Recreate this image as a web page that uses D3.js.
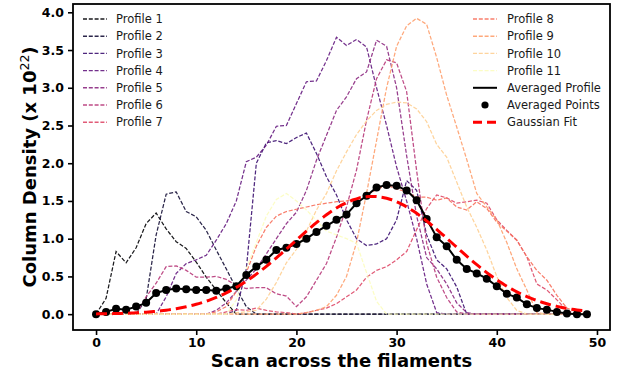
<!DOCTYPE html>
<html>
<head>
<meta charset="utf-8">
<script src="https://cdn.jsdelivr.net/npm/d3@7"></script>
<style>
  body { margin: 0; background: #fff; }
  svg { display: block; }
  text { font-family: "DejaVu Sans", sans-serif; }
</style>
</head>
<body>
<svg id="chart" width="622" height="378"></svg>
<script>
// Column density profiles measured across the filaments (units of 1e22)
const positions = d3.range(50);

const profile1 = [0,0.21,0.83,0.68,0.88,1.20,1.34,1.13,0.96,0.87,0.69,0.49,0.32,0.15,0,
  0,0,0,0,0,0,0,0,0,0,0,0,0,0,0,0,0,0,0,0,0,0,0,0,0,0,0,0,0,0,0,0,0,0,0];
const profile2 = [0,0,0,0,0,0.20,1.05,1.59,1.62,1.36,1.29,1.11,0.85,0.60,0.34,0.10,
  0,0,0,0,0,0,0,0,0,0,0,0,0,0,0,0,0,0,0,0,0,0,0,0,0,0,0,0,0,0,0,0,0,0];
const profile3 = [0,0,0,0,0,0,0,0,0,0,0,0,0,0,0.05,0.60,2.00,2.27,2.30,2.26,2.34,2.40,2.13,1.82,
  1.58,1.25,1.00,0.91,0.93,1.00,1.25,1.77,1.64,1.05,0.72,0.60,0.36,0,
  0,0,0,0,0,0,0,0,0,0,0,0];
const profile4 = [0,0,0,0,0,0,0,0.23,0.54,0.67,0.72,0.78,0.98,1.20,1.50,2.02,2.08,2.24,2.49,2.50,
  2.79,3.08,3.09,3.36,3.67,3.56,3.64,3.54,3.00,2.50,1.95,1.50,1.00,0.40,0.02,
  0,0,0,0,0,0,0,0,0,0,0,0,0,0,0];
const profile5 = [0,0,0,0,0,0,0,0,0,0,0,0,0.05,0.15,0.30,0.45,0.60,0.80,1.00,1.20,
  1.35,1.64,2.04,2.37,2.70,2.88,3.12,3.21,3.63,3.55,3.00,2.10,1.30,0.75,0.60,0.40,0.15,0.02,
  0,0,0,0,0,0,0,0,0,0,0,0];
const profile6 = [0,0,0,0,0,0.23,0.41,0.63,0.64,0.58,0.49,0.49,0.50,0.46,0.38,0.34,0.35,0.35,0.27,0.24,
  0.10,0.23,0.45,0.67,1.02,1.42,1.91,2.57,3.12,3.37,3.33,2.95,1.90,0.94,0.49,0.22,0.03,
  0,0,0,0,0,0,0,0,0,0,0,0,0];
const profile7 = [0,0,0,0,0,0,0,0,0,0,0,0,0,0.03,0.06,0.05,0.08,0.05,0.03,0.02,
  0,0.02,0.05,0.08,0.14,0.23,0.32,0.49,0.58,0.63,0.72,0.83,1.12,1.40,1.58,1.54,1.47,1.49,1.51,1.47,
  1.25,1.11,0.98,0.76,0.40,0.32,0.19,0.05,0,0];
const profile8 = [0,0,0,0,0,0,0,0,0,0,0,0,0.03,0.10,0.30,0.55,0.90,1.15,1.30,1.36,
  1.39,1.42,1.45,1.47,1.49,1.50,1.54,1.58,1.65,1.71,1.66,1.62,1.55,1.55,1.51,1.54,1.42,1.38,1.49,1.40,
  1.22,1.10,0.98,0.76,0.58,0.45,0.25,0.08,0.03,0];
const profile9 = [0,0,0,0,0,0,0,0,0,0,0,0,0,0,0,0,0,0,0,0,
  0,0.02,0.05,0.10,0.25,0.50,0.95,1.60,2.30,3.00,3.55,3.82,3.92,3.84,3.40,2.90,2.48,2.05,1.60,1.42,
  1.25,0.95,0.60,0.32,0.02,0,0,0,0,0];
const profile10 = [0,0,0,0,0,0,0,0,0,0,0,0,0,0,0.02,0.03,0.05,0.20,0.42,0.68,
  0.86,1.10,1.38,1.60,1.90,2.15,2.38,2.56,2.70,2.78,2.81,2.80,2.72,2.55,2.25,2.08,1.75,1.42,1.15,0.85,
  0.50,0.22,0.05,0,0,0,0,0,0,0];
const profile11 = [0,0,0,0,0,0,0,0,0,0,0,0,0,0,0.19,0.60,0.95,1.30,1.52,1.60,
  1.50,1.38,1.24,1.10,1.05,1.00,0.94,0.55,0.17,0,
  0,0,0,0,0,0,0,0,0,0,0,0,0,0,0,0,0,0,0,0];

const profiles = [profile1, profile2, profile3, profile4, profile5, profile6,
  profile7, profile8, profile9, profile10, profile11];
const profileNames = profiles.map((_, i) => `Profile ${i + 1}`);

const averagedProfile = [0,0.03,0.07,0.06,0.10,0.15,0.28,0.32,0.34,0.33,0.32,0.32,0.31,0.34,0.37,
  0.52,0.63,0.72,0.85,0.88,0.93,1.00,1.09,1.17,1.25,1.32,1.47,1.57,1.68,1.71,1.70,1.64,1.51,1.26,
  1.02,0.90,0.72,0.60,0.54,0.47,0.37,0.27,0.22,0.13,0.08,0.06,0.03,0.01,0,0];

// Parameters of the Gaussian fitted to the averaged profile
const fitAmplitude = 1.56;
const fitCenter = 27.6;
const fitSigma = 7.9;

const xTicks = [0, 10, 20, 30, 40, 50];
const yTicks = [0, 0.5, 1.0, 1.5, 2.0, 2.5, 3.0, 3.5, 4.0];

const svg = d3.select("#chart");
const plot = { left: 73, right: 610, top: 4, bottom: 330 };

const x = d3.scaleLinear().domain([-2.3, 51.3]).range([plot.left, plot.right]);
const y = d3.scaleLinear().domain([-0.21, 4.11]).range([plot.bottom, plot.top]);
const profileColor = i => d3.interpolateMagma(i / (profiles.length - 1));

svg.append("defs").append("clipPath").attr("id", "plot-area")
  .append("rect")
  .attr("x", plot.left).attr("y", plot.top)
  .attr("width", plot.right - plot.left).attr("height", plot.bottom - plot.top);

const layer = svg.append("g").attr("clip-path", "url(#plot-area)");

const line = d3.line().x((d, i) => x(positions[i])).y(d => y(d));

// Individual profiles
profiles.forEach((p, i) => {
  layer.append("path")
    .datum(p)
    .attr("d", line)
    .attr("fill", "none")
    .attr("stroke", profileColor(i))
    .attr("stroke-opacity", 0.9)
    .attr("stroke-width", 1.25)
    .attr("stroke-dasharray", "4,1.8");
});

// Averaged profile and its points
layer.append("path")
  .datum(averagedProfile)
  .attr("d", line)
  .attr("fill", "none")
  .attr("stroke", "#000")
  .attr("stroke-width", 2);

layer.selectAll("circle.avg")
  .data(averagedProfile)
  .join("circle")
  .attr("class", "avg")
  .attr("cx", (d, i) => x(positions[i]))
  .attr("cy", d => y(d))
  .attr("r", 4)
  .attr("fill", "#000");

// Gaussian fit
const fitX = d3.range(0, 49.001, 0.25);
const gaussian = t => fitAmplitude * Math.exp(-((t - fitCenter) ** 2) / (2 * fitSigma ** 2));
layer.append("path")
  .datum(fitX)
  .attr("d", d3.line().x(t => x(t)).y(t => y(gaussian(t))))
  .attr("fill", "none")
  .attr("stroke", "red")
  .attr("stroke-width", 3)
  .attr("stroke-dasharray", "11,5");

// Axes
const xAxis = svg.append("g")
  .attr("transform", `translate(0,${plot.bottom})`)
  .call(d3.axisBottom(x).tickValues(xTicks).tickFormat(d3.format("d")).tickSize(5).tickPadding(3));
const yAxis = svg.append("g")
  .attr("transform", `translate(${plot.left},0)`)
  .call(d3.axisLeft(y).tickValues(yTicks).tickFormat(d3.format(".1f")).tickSize(5).tickPadding(4));

[xAxis, yAxis].forEach(a => {
  a.select(".domain").remove();
  a.selectAll(".tick line").attr("stroke", "#000").attr("stroke-width", 1.6);
  a.selectAll(".tick text")
    .attr("fill", "#000")
    .style("font-family", '"DejaVu Sans", sans-serif')
    .style("font-size", "12.5px")
    .style("font-weight", "bold");
});

svg.append("rect")
  .attr("x", plot.left).attr("y", plot.top)
  .attr("width", plot.right - plot.left).attr("height", plot.bottom - plot.top)
  .attr("fill", "none")
  .attr("stroke", "#000")
  .attr("stroke-width", 1.8);

// Axis titles
svg.append("text")
  .attr("x", (plot.left + plot.right) / 2)
  .attr("y", 367)
  .attr("text-anchor", "middle")
  .style("font-size", "18px")
  .style("font-weight", "bold")
  .text("Scan across the filaments");

const yTitle = svg.append("text")
  .attr("transform", `translate(36,${(plot.top + plot.bottom) / 2}) rotate(-90)`)
  .attr("text-anchor", "middle")
  .style("font-size", "18px")
  .style("font-weight", "bold");
yTitle.append("tspan").text("Column Density (x 10");
yTitle.append("tspan").attr("dy", -7).style("font-size", "12.5px").style("font-weight", "normal").text("22");
yTitle.append("tspan").attr("dy", 7).text(")");

// Legend in two columns
const legendEntries = profileNames.map((name, i) => ({ name, kind: "profile", index: i }))
  .concat([
    { name: "Averaged Profile", kind: "avgLine" },
    { name: "Averaged Points", kind: "avgPoint" },
    { name: "Gaussian Fit", kind: "fit" }
  ]);
const perColumn = 7;
const columns = [{ x0: 83, textX: 116 }, { x0: 473, textX: 507 }];
const rowY0 = 19, rowStep = 17.2;

const legend = svg.append("g");
legendEntries.forEach((e, k) => {
  const col = columns[Math.floor(k / perColumn)];
  const ry = rowY0 + (k % perColumn) * rowStep;
  const g = legend.append("g");
  if (e.kind === "profile") {
    g.append("line")
      .attr("x1", col.x0).attr("x2", col.x0 + 24).attr("y1", ry).attr("y2", ry)
      .attr("stroke", profileColor(e.index))
      .attr("stroke-opacity", 0.9)
      .attr("stroke-width", 1.4)
      .attr("stroke-dasharray", "4,1.8");
  } else if (e.kind === "avgLine") {
    g.append("line")
      .attr("x1", col.x0).attr("x2", col.x0 + 24).attr("y1", ry).attr("y2", ry)
      .attr("stroke", "#000").attr("stroke-width", 2);
  } else if (e.kind === "avgPoint") {
    g.append("circle").attr("cx", col.x0 + 12).attr("cy", ry).attr("r", 3.6).attr("fill", "#000");
  } else {
    g.append("line")
      .attr("x1", col.x0).attr("x2", col.x0 + 24).attr("y1", ry).attr("y2", ry)
      .attr("stroke", "red").attr("stroke-width", 3)
      .attr("stroke-dasharray", "9,5");
  }
  g.append("text")
    .attr("x", col.textX).attr("y", ry)
    .attr("dy", "0.36em")
    .style("font-size", "11.5px")
    .attr("fill", "#1a1a1a")
    .text(e.name);
});
</script>
</body>
</html>
